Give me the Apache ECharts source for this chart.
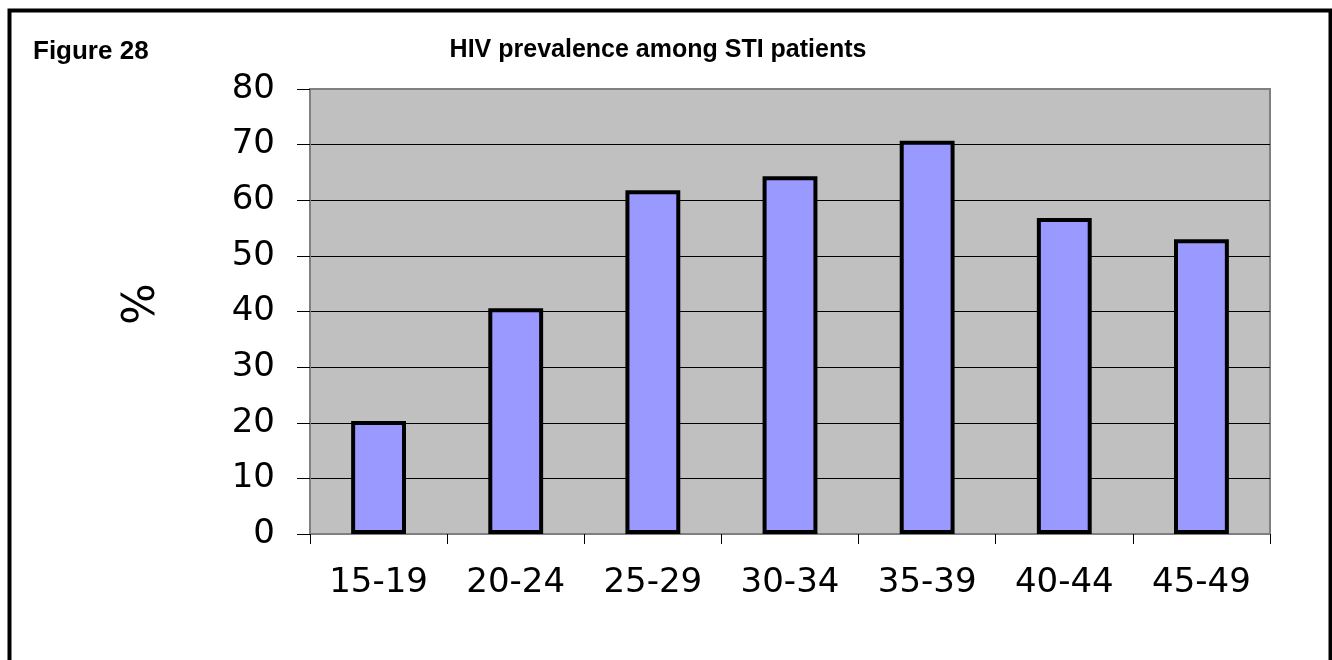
<!DOCTYPE html>
<html>
<head>
<meta charset="utf-8">
<script src="https://cdn.jsdelivr.net/npm/echarts@6/dist/echarts.min.js"></script>
<style>
html,body{margin:0;padding:0;background:#fff;}
#chart{width:1332px;height:660px;}
</style>
</head>
<body>
<div id="chart"></div>
<script>
var categories = ['15-19', '20-24', '25-29', '30-34', '35-39', '40-44', '45-49'];
var prevalence = [20.3, 40.6, 61.8, 64.3, 70.7, 56.8, 53];
var yTicks = [0, 10, 20, 30, 40, 50, 60, 70, 80];
var titleText = 'HIV prevalence among STI patients';
var figureLabel = 'Figure 28';
var yName = '%';

var chart = echarts.init(document.getElementById('chart'), null, {renderer: 'canvas'});
var option = {
  animation: false,
  backgroundColor: '#ffffff',
  title: {
    text: titleText,
    left: 653,
    top: 33,
    textAlign: 'center',
    textStyle: {fontFamily: 'Liberation Sans', fontWeight: 'bold', fontSize: 25, color: '#000'}
  },
  grid: {
    left: 310, right: 62, top: 89, bottom: 126,
    show: true,
    backgroundColor: '#C0C0C0',
    borderColor: '#808080',
    borderWidth: 2
  },
  xAxis: {
    type: 'category',
    data: categories,
    axisLine: {show: true, lineStyle: {color: '#808080', width: 2}},
    axisTick: {show: true, length: 10, lineStyle: {color: '#000', width: 1}},
    axisLabel: {margin: 32, fontFamily: 'DejaVu Sans', fontSize: 34, color: '#000'},
    splitLine: {show: false}
  },
  yAxis: {
    type: 'value',
    min: yTicks[0],
    max: yTicks[yTicks.length - 1],
    interval: yTicks[1] - yTicks[0],
    axisLine: {show: true, lineStyle: {color: '#808080', width: 2}},
    axisTick: {show: true, length: 13, lineStyle: {color: '#000', width: 1}},
    axisLabel: {margin: 35, fontFamily: 'DejaVu Sans', fontSize: 34, color: '#000'},
    splitLine: {show: true, showMinLine: false, showMaxLine: false, lineStyle: {color: '#000', width: 1}}
  },
  series: [{
    type: 'bar',
    data: prevalence,
    barWidth: '40%',
    itemStyle: {color: '#9999FF', borderColor: '#000', borderWidth: 4}
  }],
  graphic: [
    {
      type: 'rect',
      shape: {x: 9.5, y: 10.5, width: 1321, height: 700},
      style: {fill: 'none', stroke: '#000', lineWidth: 4},
      silent: true
    },
    {
      type: 'text',
      x: 33, y: 52,
      style: {text: figureLabel, fontFamily: 'Liberation Sans', fontWeight: 'bold', fontSize: 26, fill: '#000', textAlign: 'left', textVerticalAlign: 'middle'}
    },
    {
      type: 'text',
      x: 143, y: 304,
      rotation: Math.PI / 2,
      style: {text: yName, fontFamily: 'DejaVu Sans', fontSize: 44, fill: '#000', textAlign: 'center', textVerticalAlign: 'middle'}
    }
  ]
};
chart.setOption(option);
</script>
</body>
</html>
